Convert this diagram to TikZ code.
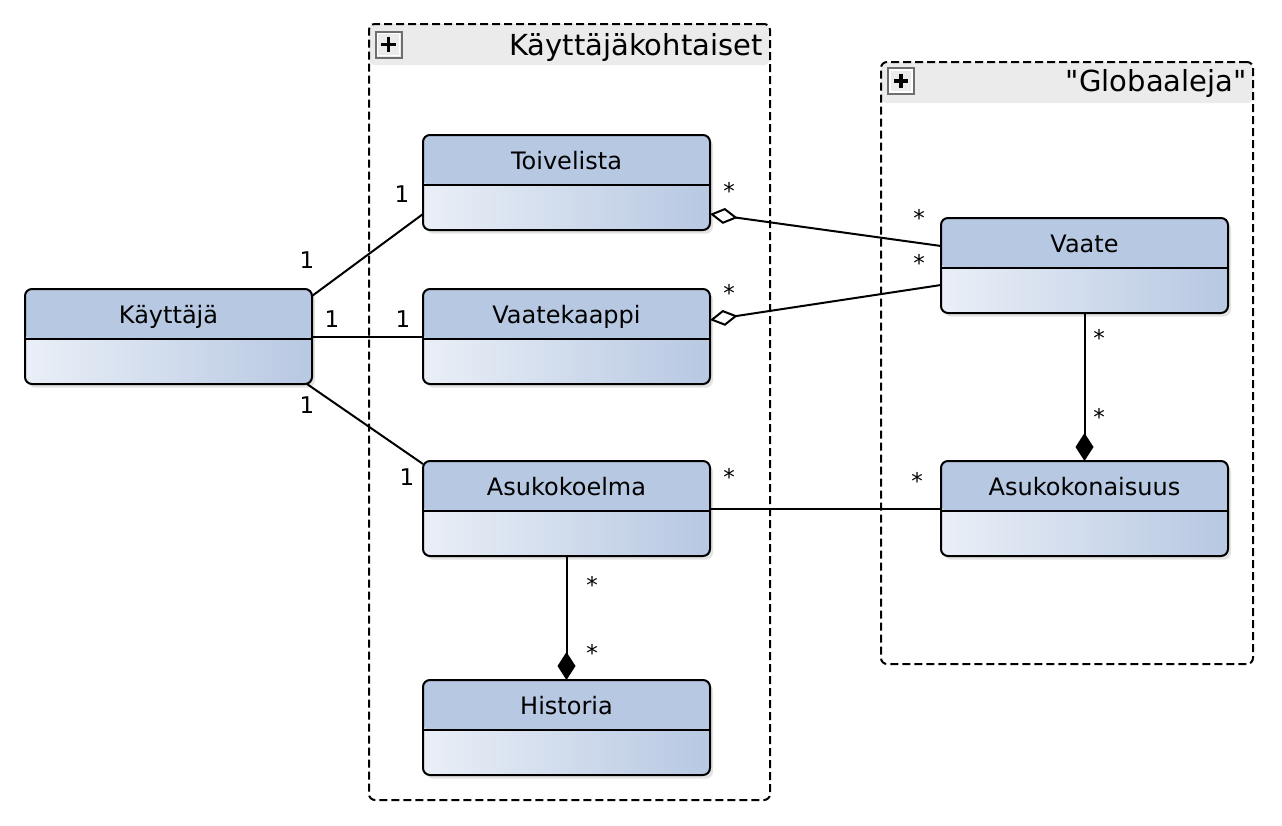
\documentclass[tikz,border=0pt]{standalone}
\usepackage{fontspec}
\setmainfont{DejaVu Sans}
\newfontfamily\titlefont{DejaVu Sans}
\usetikzlibrary{arrows.meta,shadows,positioning}
\definecolor{classhead}{RGB}{183,200,226}
\definecolor{classlight}{RGB}{234,239,247}
\definecolor{pkghead}{RGB}{235,235,235}
\definecolor{icongray}{RGB}{110,110,110}
\tikzstyle{umlclass}=[rectangle,rounded corners=3.5pt,draw=black,line width=1pt,
  minimum width=143.5pt,minimum height=47.5pt,inner sep=0pt,outer sep=0pt,
  text height=17pt,text depth=30.5pt,left color=classlight,right color=classhead,
  drop shadow={shadow xshift=1.5pt,shadow yshift=-1.8pt,opacity=0.22},
  font=\fontsize{12}{14}\selectfont,
  path picture={\fill[classhead] (path picture bounding box.north west) rectangle ([yshift=-25pt]path picture bounding box.north east);
    \draw[line width=1pt] ([yshift=-25pt]path picture bounding box.north west) -- ([yshift=-25pt]path picture bounding box.north east);}]
\tikzstyle{umlpackage}=[rectangle,rounded corners=3pt,draw=black,line width=1pt,
  dash pattern=on 4pt off 2pt,inner sep=0pt,outer sep=0pt,
  path picture={\fill[pkghead] (path picture bounding box.north west) rectangle ([yshift=-20.5pt]path picture bounding box.north east);}]
\tikzstyle{pkgicon}=[rectangle,draw=icongray,line width=1pt,fill=pkghead,minimum size=13pt,inner sep=0pt,
  path picture={\draw[white,line width=0.6pt] ([xshift=1pt,yshift=-1pt]path picture bounding box.north west) rectangle ([xshift=-1pt,yshift=1pt]path picture bounding box.south east);
    \draw[black,line width=1.6pt] ([xshift=-3.6pt]path picture bounding box.center) -- ([xshift=3.6pt]path picture bounding box.center);
    \draw[black,line width=1.6pt] ([yshift=-3.6pt]path picture bounding box.center) -- ([yshift=3.6pt]path picture bounding box.center);}]
\tikzstyle{pkgtitle}=[font=\titlefont\fontsize{14.5}{17}\selectfont,inner sep=0pt,anchor=base east]
\tikzstyle{mult}=[font=\fontsize{11.5}{13}\selectfont,inner sep=0pt,anchor=base]
\tikzstyle{assoc}=[line width=1pt]
\tikzstyle{aggregation}=[line width=1pt,{Diamond[open,length=14pt,width=8pt]}-]
\tikzstyle{composition}=[line width=1pt,{Diamond[length=14pt,width=9pt]}-]

\begin{document}
\begin{tikzpicture}[x=0.5pt,y=-0.5pt]
  \useasboundingbox (0,0) rectangle (1282,826);

  % packages
  \node[umlpackage,minimum width=200.5pt,minimum height=388pt] (kohtaiset) at (569.5,412) {};
  \node[pkgicon] (kplus) at ([xshift=9.75pt,yshift=-10.25pt]kohtaiset.north west) {};
  \node[pkgtitle] (ktitle) at ([xshift=-3.5pt,yshift=-15.5pt]kohtaiset.north east) {Käyttäjäkohtaiset};

  \node[umlpackage,minimum width=186pt,minimum height=301pt] (globaalit) at (1067,363) {};
  \node[pkgicon] (gplus) at ([xshift=10pt,yshift=-9.5pt]globaalit.north west) {};
  \node[pkgtitle] (gtitle) at ([xshift=-3pt,yshift=-14.5pt]globaalit.north east) {"Globaaleja"};

  % classes
  \node[umlclass] (kayttaja) at (168.5,336.5) {Käyttäjä};
  \node[umlclass,right=55.5pt of kayttaja] (vaatekaappi) {Vaatekaappi};
  \node[umlclass,above=29.5pt of vaatekaappi] (toivelista) {Toivelista};
  \node[umlclass,below=38.5pt of vaatekaappi] (asukokoelma) {Asukokoelma};
  \node[umlclass,below=62pt of asukokoelma] (historia) {Historia};
  \node[umlclass,right=115.5pt of asukokoelma] (asukokonaisuus) {Asukokonaisuus};
  \node[umlclass,above=74pt of asukokonaisuus] (vaate) {Vaate};

  % relations
  \draw[assoc] ([yshift=-3.5pt]kayttaja.north east) -- ([yshift=8pt]toivelista.south west);
  \draw[assoc] (kayttaja) -- (vaatekaappi);
  \draw[assoc] ([xshift=-2.5pt]kayttaja.south east) -- ([yshift=-1.5pt]asukokoelma.north west);
  \draw[aggregation] ([yshift=8pt]toivelista.south east) -- ([yshift=-14pt]vaate.north west);
  \draw[aggregation] ([yshift=-15.5pt]vaatekaappi.north east) -- ([yshift=14pt]vaate.south west);
  \draw[composition] (asukokonaisuus) -- (vaate);
  \draw[assoc] (asukokoelma) -- (asukokonaisuus);
  \draw[composition] (historia) -- (asukokoelma);

  % multiplicities
  \node[mult] (m1) at (307,268) {1};
  \node[mult] (m2) at (402,202) {1};
  \node[mult] (m3) at (332,327) {1};
  \node[mult] (m4) at (403,327) {1};
  \node[mult] (m5) at (307,413) {1};
  \node[mult] (m6) at (407,485) {1};
  \node[mult] (m7) at (729,199) {*};
  \node[mult] (m8) at (919,226) {*};
  \node[mult] (m9) at (919,271) {*};
  \node[mult] (m10) at (729,301) {*};
  \node[mult] (m11) at (1099,346) {*};
  \node[mult] (m12) at (1099,425) {*};
  \node[mult] (m13) at (729,485) {*};
  \node[mult] (m14) at (917,489) {*};
  \node[mult] (m15) at (592,593) {*};
  \node[mult] (m16) at (592,661) {*};
\end{tikzpicture}
\end{document}
